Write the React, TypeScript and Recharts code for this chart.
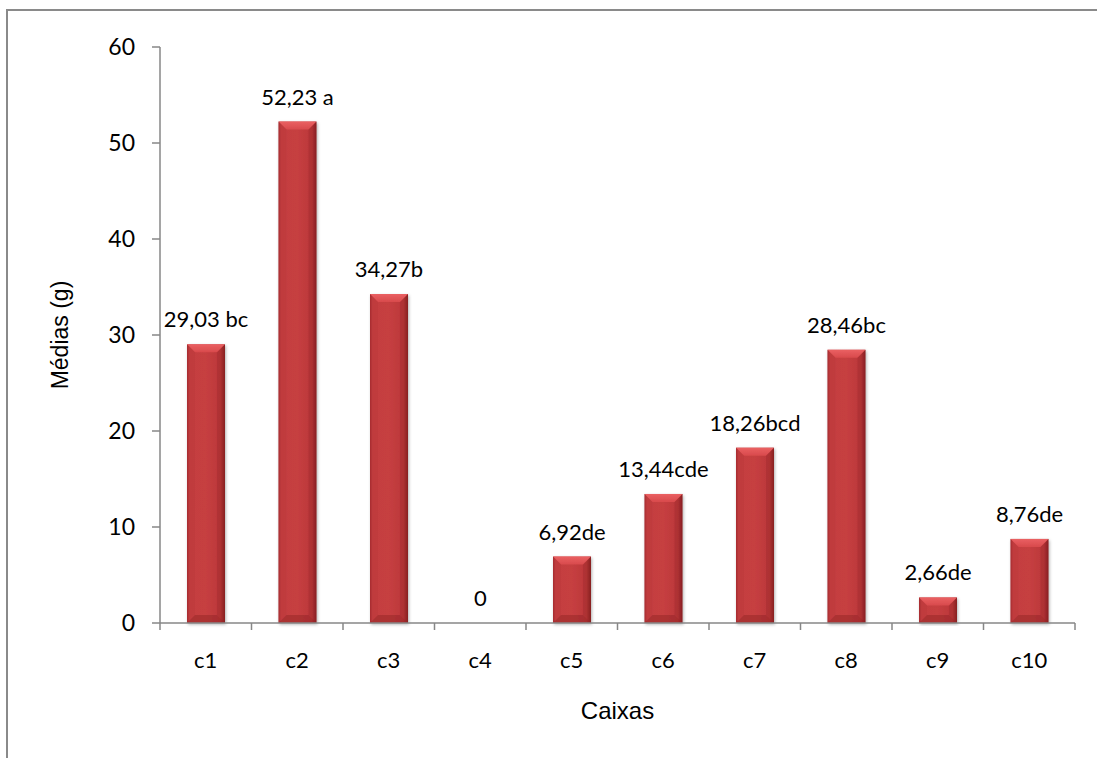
import React from "react"
import { BarChart, Bar, XAxis, YAxis, LabelList } from "recharts"

const caixas = ["c1", "c2", "c3", "c4", "c5", "c6", "c7", "c8", "c9", "c10"]
const medias = [29.03, 52.23, 34.27, 0, 6.92, 13.44, 18.26, 28.46, 2.66, 8.76]
const letras = [" bc", " a", "b", "", "de", "cde", "bcd", "bc", "de", "de"]
const yTicks = [0, 10, 20, 30, 40, 50, 60]

const data = caixas.map((caixa, i) => ({
  caixa,
  media: medias[i],
  rotulo: medias[i] === 0 ? "0" : medias[i].toFixed(2).replace(".", ",") + letras[i],
}))

const AXIS = "#878787"
const NUM_FONT = "Lato, 'Open Sans', sans-serif"
const TITLE_FONT = "'Liberation Sans', Arial, sans-serif"

// bevelled red bar, like the office "bevel" shape effect
function BevelBar(props: any) {
  const { x, y, width, height } = props
  if (!height || height <= 0) return null
  const b = Math.min(8, height / 2, width / 2)
  const r = x + width
  const btm = y + height
  return (
    <g filter="url(#barShadow)">
      <rect x={x} y={y} width={width} height={height} fill="url(#barBody)" />
      <polygon points={`${x},${y} ${r},${y} ${r - b},${y + b} ${x + b},${y + b}`} fill="url(#barTop)" />
      <polygon points={`${x},${y} ${x + b},${y + b} ${x + b},${btm - b} ${x},${btm}`} fill="#b53436" opacity={0.25} />
      <polygon points={`${r},${y} ${r - b},${y + b} ${r - b},${btm - b} ${r},${btm}`} fill="#7e1c1d" opacity={0.2} />
      <polygon points={`${x},${btm} ${r},${btm} ${r - b},${btm - b} ${x + b},${btm - b}`} fill="#8f2224" opacity={0.45} />
    </g>
  )
}

// value + letter group above each bar, kept on one line
function Rotulo(props: any) {
  const { x, y, width, value } = props
  return (
    <text x={x + width / 2} y={y - 17} textAnchor="middle" fontSize={22} fontFamily={NUM_FONT} fill="#000">
      {value}
    </text>
  )
}

// category labels with tick marks on the category edges
function CaixaTick(props: any) {
  const { x, y, payload, index, visibleTicksCount } = props
  const half = payload.offset || 0
  const axisY = y - 29
  const last = index === visibleTicksCount - 1
  return (
    <g>
      <line x1={x - half} x2={x - half} y1={axisY} y2={axisY + 7} stroke={AXIS} strokeWidth={1.5} />
      {last && <line x1={x + half} x2={x + half} y1={axisY} y2={axisY + 7} stroke={AXIS} strokeWidth={1.5} />}
      <text x={x} y={y} dy="0.71em" textAnchor="middle" fontSize={22} fontFamily={NUM_FONT} fill="#000">
        {payload.value}
      </text>
    </g>
  )
}

export default function App() {
  return (
    <div style={{ position: "fixed", left: 0, top: 0, width: 1097, height: 758, background: "#fff", overflow: "hidden" }}>
      <div
        style={{
          position: "absolute",
          left: 6,
          top: 9,
          width: 1200,
          height: 900,
          borderLeft: "2px solid #8a8a8a",
          borderTop: "2px solid #8a8a8a",
        }}
      />
      <BarChart
        width={1097}
        height={758}
        data={data}
        margin={{ top: 47, right: 22, bottom: 35, left: 50 }}
        style={{ position: "absolute", left: 0, top: 0 }}
      >
        <defs>
          <linearGradient id="barBody" x1="0" y1="0" x2="1" y2="0">
            <stop offset="0" stopColor="#a22a2c" />
            <stop offset="0.07" stopColor="#c43e40" />
            <stop offset="0.5" stopColor="#c63f41" />
            <stop offset="0.88" stopColor="#bb3739" />
            <stop offset="1" stopColor="#8a2123" />
          </linearGradient>
          <linearGradient id="barTop" x1="0" y1="0" x2="0" y2="1">
            <stop offset="0" stopColor="#ea6062" />
            <stop offset="1" stopColor="#d84a4c" />
          </linearGradient>
          <filter id="barShadow" x="-20%" y="-10%" width="140%" height="120%">
            <feDropShadow dx="1" dy="1.5" stdDeviation="1.5" floodColor="#000" floodOpacity="0.3" />
          </filter>
        </defs>
        <XAxis
          dataKey="caixa"
          height={100}
          axisLine={{ stroke: AXIS, strokeWidth: 1.5 }}
          tickLine={false}
          tickSize={7}
          tickMargin={22}
          tick={<CaixaTick />}
          interval={0}
          label={{
            value: "Caixas",
            position: "insideBottom",
            offset: 4,
            fontSize: 24,
            fontFamily: TITLE_FONT,
            fill: "#000",
          }}
        />
        <YAxis
          domain={[0, 60]}
          ticks={yTicks}
          width={110}
          tickSize={8}
          tickMargin={17}
          axisLine={{ stroke: AXIS, strokeWidth: 1.5 }}
          tickLine={{ stroke: AXIS, strokeWidth: 1.5 }}
          tick={{ fontSize: 23, fontFamily: NUM_FONT, fill: "#000" }}
          label={{
            value: "Médias (g)",
            angle: -90,
            position: "insideLeft",
            offset: 10,
            fontSize: 23,
            fontFamily: TITLE_FONT,
            fill: "#000",
            style: { textAnchor: "middle" },
          }}
        />
        <Bar dataKey="media" barSize={38} shape={<BevelBar />} isAnimationActive={false}>
          <LabelList dataKey="rotulo" content={<Rotulo />} />
        </Bar>
      </BarChart>
    </div>
  )
}
